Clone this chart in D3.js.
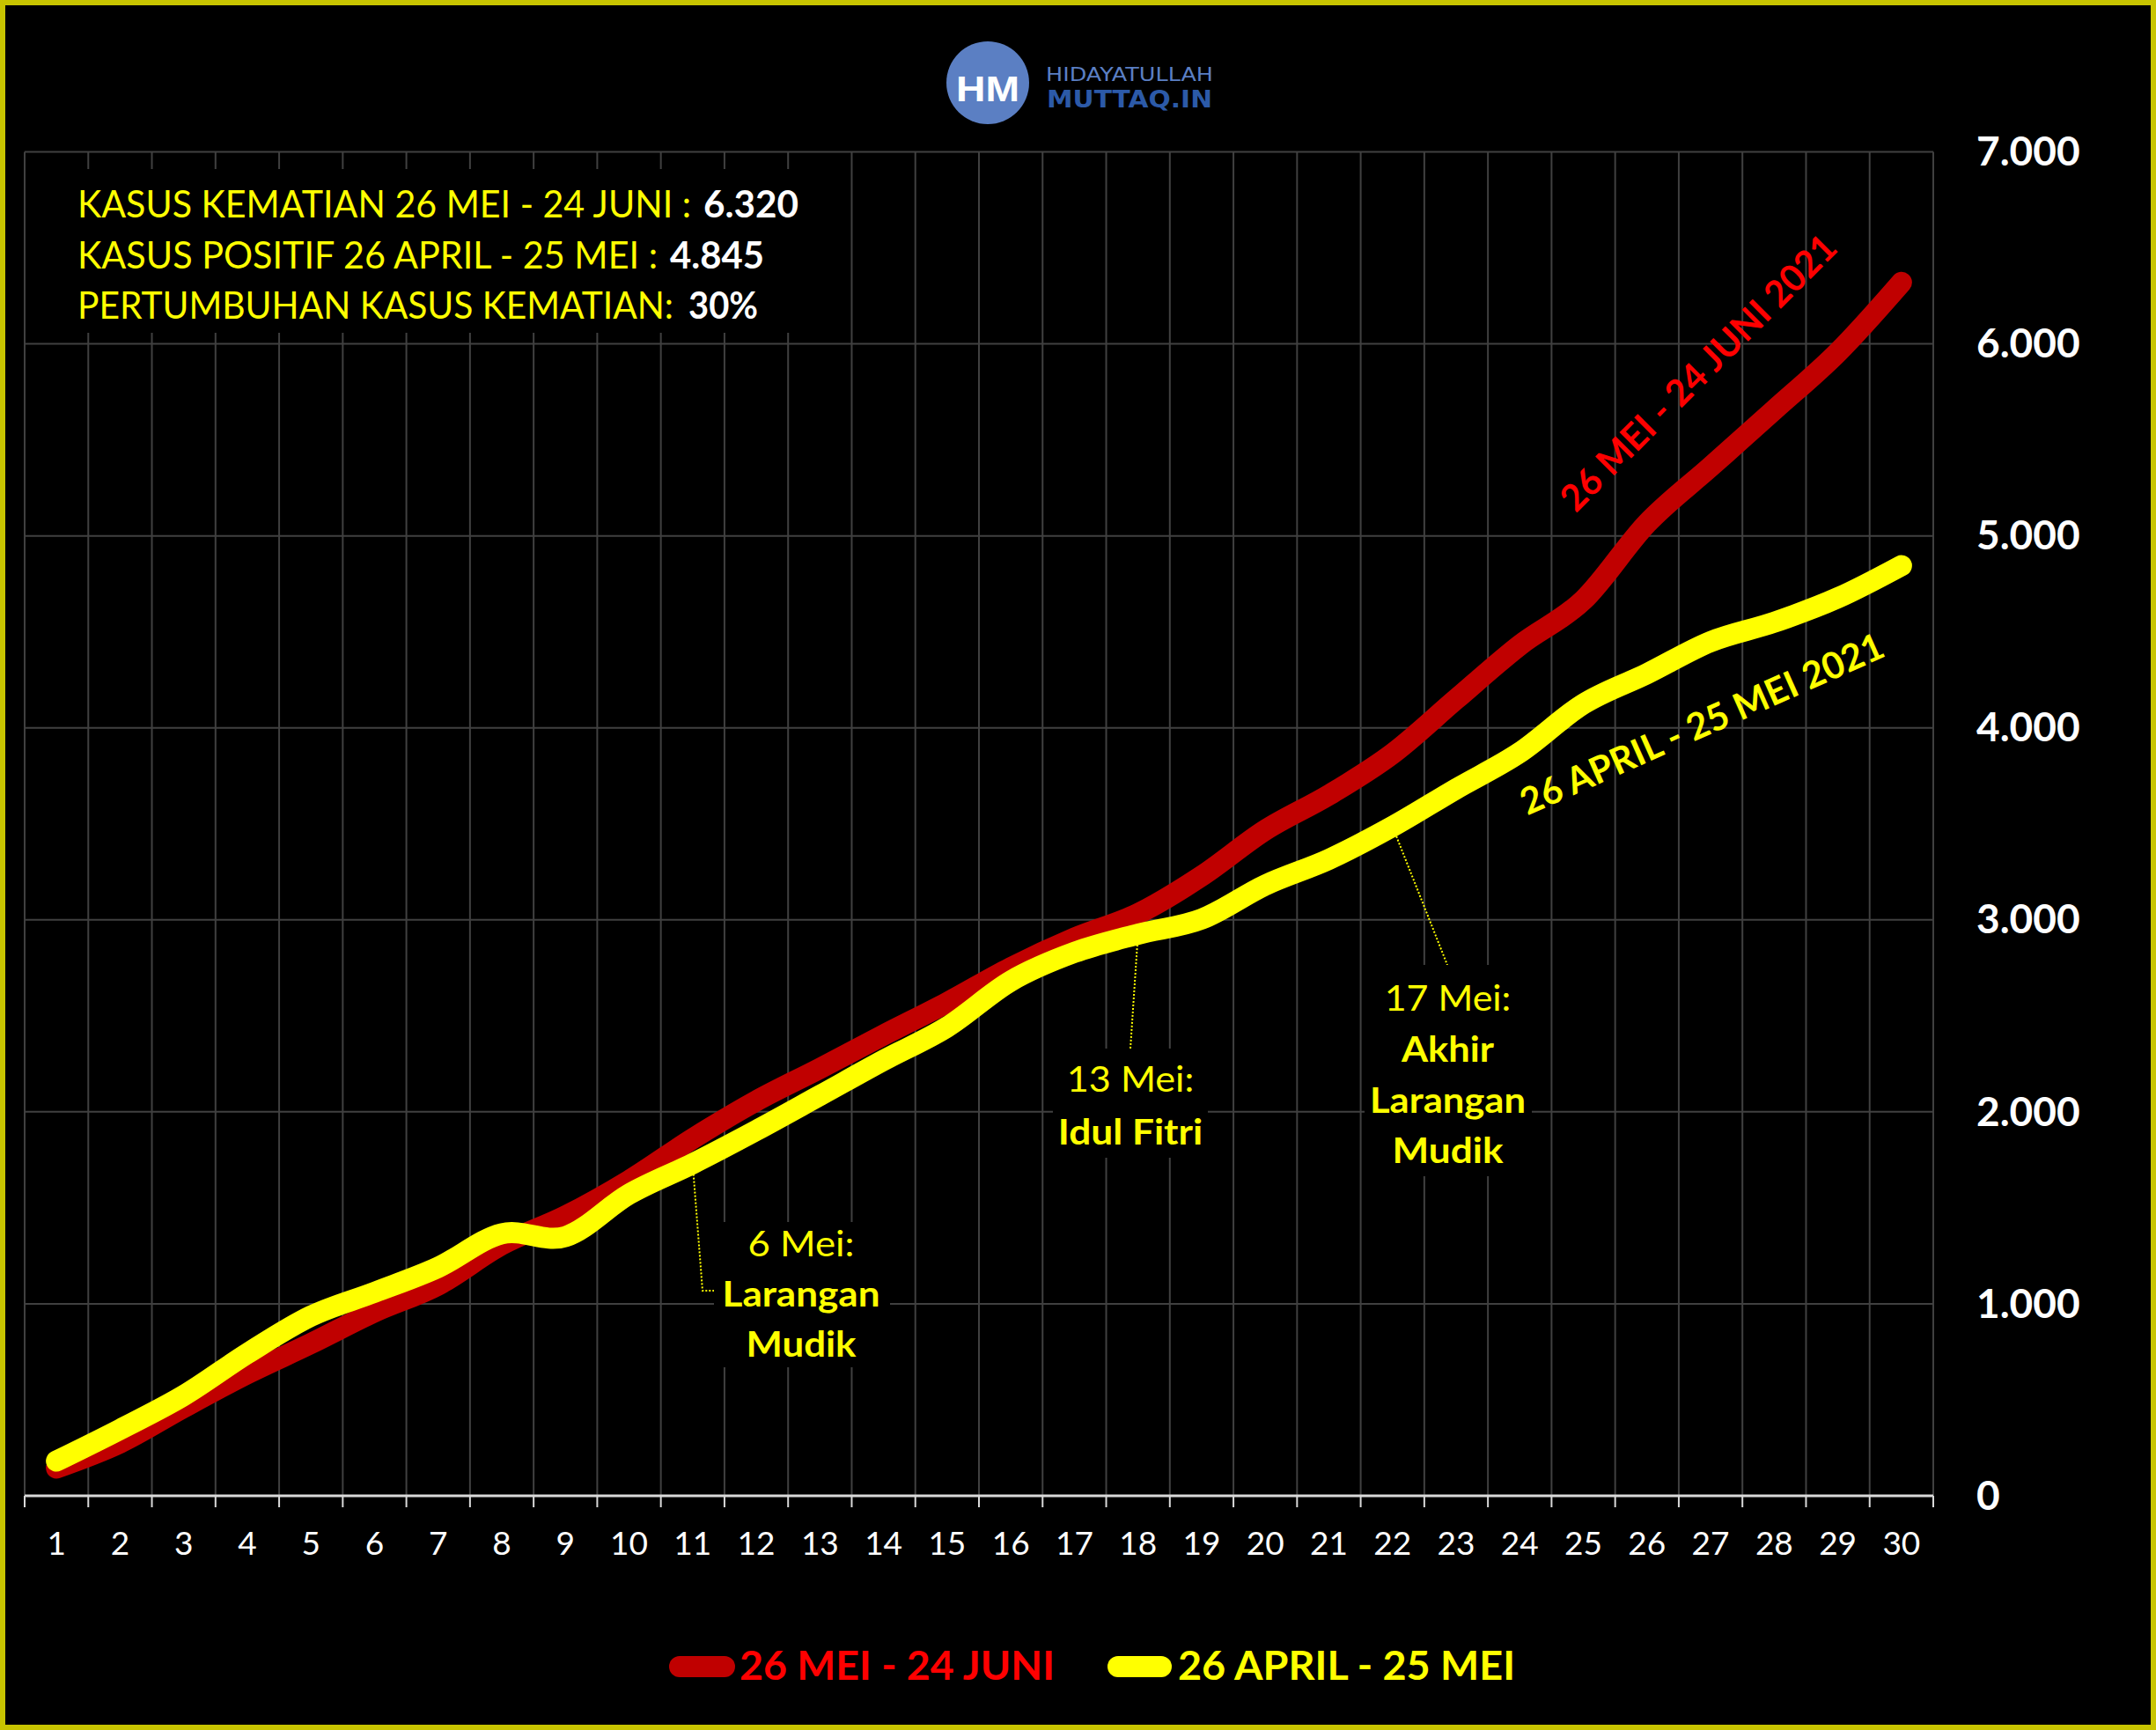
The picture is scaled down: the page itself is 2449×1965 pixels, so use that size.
<!DOCTYPE html>
<html>
<head>
<meta charset="utf-8">
<script src="https://d3js.org/d3.v7.min.js"></script>
<style>
  html, body { margin: 0; padding: 0; background: #000; }
  svg { display: block; }
</style>
</head>
<body>
<svg id="chart" width="2449" height="1965"></svg>
<script>
// ---------------- DATA ----------------
const categories = ["1","2","3","4","5","6","7","8","9","10","11","12","13","14","15",
                    "16","17","18","19","20","21","22","23","24","25","26","27","28","29","30"];
// 26 Mei - 24 Juni 2021 (cumulative deaths)
const seriesJuni = [145, 276, 460, 636, 793, 958, 1098, 1308, 1457, 1642,
                    1860, 2057, 2226, 2400, 2569, 2751, 2905, 3032, 3228, 3467,
                    3650, 3865, 4149, 4430, 4665, 5065, 5360, 5656, 5956, 6320];
// 26 April - 25 Mei 2021
const seriesMei  = [181, 346, 522, 741, 936, 1060, 1190, 1365, 1350, 1571,
                    1730, 1903, 2085, 2268, 2442, 2681, 2830, 2925, 3004, 3181,
                    3315, 3486, 3682, 3871, 4124, 4282, 4449, 4550, 4677, 4845];
const seriesNames = ["26 MEI - 24 JUNI", "26 APRIL - 25 MEI"];
const seriesTitles = ["26 MEI - 24 JUNI 2021", "26 APRIL - 25 MEI 2021"];
const yTicks = [0, 1000, 2000, 3000, 4000, 5000, 6000, 7000];
const yTickLabels = ["0", "1.000", "2.000", "3.000", "4.000", "5.000", "6.000", "7.000"];
const annotationDays = ["11", "18", "22"];
const annotationHeads = ["6 Mei:", "13 Mei:", "17 Mei:"];
const annotationBodies = [["Larangan", "Mudik"], ["Idul Fitri"], ["Akhir", "Larangan", "Mudik"]];

// ---------------- SETUP ----------------
const FONT = "Lato, 'Open Sans', 'Noto Sans', sans-serif";
const RED_LINE = "#C00000", RED_TXT = "#FF0000", YEL = "#FFFF00";
const svg = d3.select("#chart");

svg.append("rect").attr("x", 0).attr("y", 0).attr("width", 2449).attr("height", 1965).attr("fill", "#000");
svg.append("rect").attr("x", 3).attr("y", 3).attr("width", 2443).attr("height", 1959)
  .attr("fill", "none").attr("stroke", "#c8c400").attr("stroke-width", 6);

const x = d3.scaleBand().domain(categories).range([28, 2196]).paddingInner(0).paddingOuter(0);
const y = d3.scaleLinear().domain([0, 7000]).range([1699, 172.5]);
const xc = c => x(c) + x.bandwidth() / 2;

function addText(parent, str, px, py, o) {
  const t = parent.append("text").attr("x", px).attr("y", py)
    .attr("font-family", o.family || FONT).attr("font-size", o.size)
    .attr("font-weight", o.weight || "normal").attr("fill", o.fill)
    .attr("text-anchor", o.anchor || "start").text(str);
  if (o.len) t.attr("textLength", o.len).attr("lengthAdjust", "spacingAndGlyphs");
  if (o.rotate) t.attr("transform", `rotate(${o.rotate[0]},${o.rotate[1]},${o.rotate[2]})`);
  return t;
}

// ---------------- GRID ----------------
const grid = svg.append("g").attr("stroke", "#404040").attr("stroke-width", 2);
const boundaries = categories.map(c => x(c)).concat([x.range()[1]]);
grid.selectAll("line.v").data(boundaries).join("line").attr("class", "v")
  .attr("x1", d => d).attr("x2", d => d).attr("y1", y(7000)).attr("y2", y(0));
grid.selectAll("line.h").data(yTicks.filter(d => d > 0)).join("line").attr("class", "h")
  .attr("x1", x.range()[0]).attr("x2", x.range()[1]).attr("y1", d => y(d)).attr("y2", d => y(d));

// black box behind the summary text
svg.append("rect").attr("x", 30).attr("y", 192).attr("width", 900).attr("height", 186).attr("fill", "#000");

// ---------------- AXES ----------------
svg.append("line").attr("x1", x.range()[0]).attr("x2", x.range()[1])
  .attr("y1", y(0)).attr("y2", y(0)).attr("stroke", "#d9d9d9").attr("stroke-width", 3);
svg.append("g").selectAll("line").data(boundaries).join("line")
  .attr("x1", d => d).attr("x2", d => d).attr("y1", y(0)).attr("y2", y(0) + 13)
  .attr("stroke", "#d9d9d9").attr("stroke-width", 2);

const xAxis = svg.append("g").attr("transform", `translate(0,${y(0)})`)
  .call(d3.axisBottom(x).tickSize(0).tickPadding(0));
xAxis.select(".domain").remove();
xAxis.attr("font-family", FONT).attr("font-size", 37);
xAxis.selectAll("text").attr("y", 67).attr("dy", null).attr("fill", "#fff");

const yAxis = svg.append("g").attr("transform", "translate(2245,0)")
  .call(d3.axisRight(y).tickValues(yTicks).tickFormat((d, i) => yTickLabels[i]).tickSize(0).tickPadding(0));
yAxis.select(".domain").remove();
yAxis.attr("font-family", FONT).attr("font-size", 46).attr("font-weight", "bold");
yAxis.selectAll("text").attr("fill", "#fff").attr("dy", "0.33em").attr("text-anchor", "start");

// ---------------- ANNOTATION LEADERS ----------------
const leaderEnds = [[[798, 1466], [811, 1466]], [[1284, 1191]], [[1644, 1096]]];
annotationDays.forEach((d, k) => {
  const i = categories.indexOf(d);
  const pts = [[xc(d), y(seriesMei[i])]].concat(leaderEnds[k]);
  svg.append("path").attr("d", d3.line()(pts)).attr("fill", "none")
    .attr("stroke", YEL).attr("stroke-width", 2).attr("stroke-dasharray", "2 2");
});

// ---------------- LINES ----------------
const lineGen = d3.line().x(d => xc(d.c)).y(d => y(d.v)).curve(d3.curveCardinal.tension(0));
const redData = categories.map((c, i) => ({ c, v: seriesJuni[i] }));
const yelData = categories.map((c, i) => ({ c, v: seriesMei[i] }));
svg.append("path").attr("d", lineGen(redData)).attr("fill", "none").attr("stroke", RED_LINE)
  .attr("stroke-width", 24).attr("stroke-linecap", "round").attr("stroke-linejoin", "round");
svg.append("path").attr("d", lineGen(yelData)).attr("fill", "none").attr("stroke", YEL)
  .attr("stroke-width", 24).attr("stroke-linecap", "round").attr("stroke-linejoin", "round");

// ---------------- ANNOTATION BOXES & TEXT ----------------
const annBoxes = [[811, 1388, 200, 165], [1196, 1191, 176, 124], [1550, 1096, 190, 240]];
const annCenters = [910, 1284, 1644.5];
const annBaselines = [[1427, 1484, 1541], [1240, 1299.5], [1148, 1206, 1263.5, 1321]];
const annLens = [[121, 179, 125], [144.5, 164.6], [143.7, 105, 177, 126]];
annotationHeads.forEach((h, k) => {
  const b = annBoxes[k];
  svg.append("rect").attr("x", b[0]).attr("y", b[1]).attr("width", b[2]).attr("height", b[3]).attr("fill", "#000");
  const lines = [h].concat(annotationBodies[k]);
  lines.forEach((s, j) => {
    addText(svg, s, annCenters[k], annBaselines[k][j],
      { size: 40, weight: j === 0 ? "normal" : "bold", fill: YEL, anchor: "middle", len: annLens[k][j] });
  });
});

// ---------------- SERIES TITLES (rotated) ----------------
addText(svg, seriesTitles[0], 1929, 438, { size: 42, weight: "bold", fill: RED_TXT, anchor: "middle", len: 423, rotate: [-45, 1929, 423] });
addText(svg, seriesTitles[1], 1933, 837, { size: 42, weight: "bold", fill: YEL, anchor: "middle", len: 447, rotate: [-24, 1933, 822] });

// ---------------- SUMMARY TEXT ----------------
const fmt = v => d3.format(",")(v).replace(/,/g, ".");
const totalJuni = seriesJuni[seriesJuni.length - 1];
const totalMei = seriesMei[seriesMei.length - 1];
const growth = Math.round((totalJuni - totalMei) / totalMei * 100);
addText(svg, "KASUS KEMATIAN 26 MEI - 24 JUNI :", 88, 247, { size: 42, fill: YEL, len: 697 });
addText(svg, fmt(totalJuni), 799, 247, { size: 42, weight: "bold", fill: "#fff", len: 108 });
addText(svg, "KASUS POSITIF 26 APRIL - 25 MEI :", 88, 305, { size: 42, fill: YEL, len: 659 });
addText(svg, fmt(totalMei), 761, 305, { size: 42, weight: "bold", fill: "#fff", len: 107 });
addText(svg, "PERTUMBUHAN KASUS KEMATIAN:", 88, 362, { size: 42, fill: YEL, len: 677 });
addText(svg, growth + "%", 782, 362, { size: 42, weight: "bold", fill: "#fff", len: 79 });

// ---------------- LEGEND ----------------
svg.append("line").attr("x1", 772).attr("x2", 823).attr("y1", 1893).attr("y2", 1893)
  .attr("stroke", RED_LINE).attr("stroke-width", 24).attr("stroke-linecap", "round");
addText(svg, seriesNames[0], 840, 1908, { size: 46, weight: "bold", fill: RED_TXT, len: 358 });
svg.append("line").attr("x1", 1270).attr("x2", 1319).attr("y1", 1893).attr("y2", 1893)
  .attr("stroke", YEL).attr("stroke-width", 24).attr("stroke-linecap", "round");
addText(svg, seriesNames[1], 1338, 1908, { size: 46, weight: "bold", fill: YEL, len: 383 });

// ---------------- LOGO ----------------
svg.append("circle").attr("cx", 1122).attr("cy", 94).attr("r", 47).attr("fill", "#5b7fc3");
addText(svg, "HM", 1122, 115, { size: 40, weight: "bold", fill: "#fff", anchor: "middle", len: 72, family: "'Liberation Sans', Arial, sans-serif" });
addText(svg, "HIDAYATULLAH", 1188, 92, { size: 21, fill: "#5b7fc3", len: 190, family: "'DejaVu Sans', sans-serif" });
addText(svg, "MUTTAQ.IN", 1189, 122, { size: 27, weight: "bold", fill: "#2c5aa8", len: 188, family: "'DejaVu Sans', sans-serif" });
</script>
</body>
</html>
